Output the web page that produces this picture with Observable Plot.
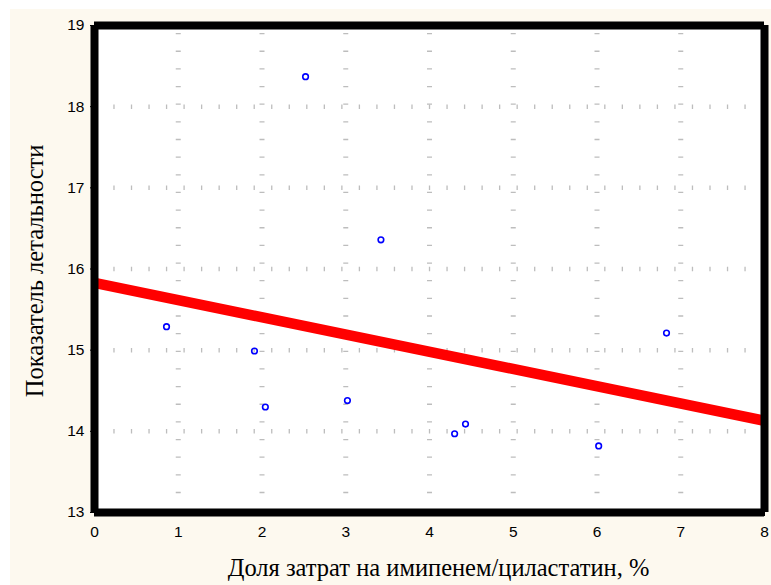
<!DOCTYPE html>
<html>
<head>
<meta charset="utf-8">
<script src="https://cdn.jsdelivr.net/npm/d3@7"></script>
<script src="https://cdn.jsdelivr.net/npm/@observablehq/plot@0.6"></script>
<style>
  html, body { margin: 0; padding: 0; background: #ffffff; }
  #chart svg { display: block; }
</style>
</head>
<body>
<div id="chart"></div>
<script>
// Cost share of imipenem/cilastatin (%) vs. lethality index
const shareX = [0.86, 1.91, 2.04, 2.52, 3.02, 3.42, 4.30, 4.43, 6.02, 6.83];
const lethalityY = [15.29, 14.99, 14.30, 18.37, 14.38, 16.36, 13.97, 14.09, 13.82, 15.21];

// Fitted trend line, read at both ends of the axis
const fitX = [0, 8];
const fitY = [15.83, 14.13];

const xTicks = [0, 1, 2, 3, 4, 5, 6, 7, 8];
const yTicks = [13, 14, 15, 16, 17, 18, 19];
const gridX = [1, 2, 3, 4, 5, 6, 7];
const gridY = [14, 15, 16, 17, 18];

const xTitle = "Доля затрат на имипенем/циластатин, %";
const yTitle = "Показатель летальности";

const points = shareX.map((x, i) => ({x, y: lethalityY[i]}));
const fit = fitX.map((x, i) => ({x, y: fitY[i]}));

const serif = "'Liberation Serif', 'Times New Roman', serif";
const sans = "'Liberation Sans', Arial, sans-serif";

const chart = Plot.plot({
  width: 771,
  height: 585,
  marginLeft: 94,
  marginRight: 7,
  marginTop: 25,
  marginBottom: 73,
  style: {
    background: "#fdf9ef",
    boxShadow: "inset 10px 9px 0 #ffffff",
    color: "#000000",
    fontFamily: sans,
    fontSize: "15.5px"
  },
  x: {domain: [0, 8]},
  y: {domain: [13, 19]},
  marks: [
    Plot.frame({fill: "#ffffff", stroke: null}),
    // dotted grid: short vertical ticks along horizontal lines
    Plot.ruleY(gridY, {stroke: "#bdbdbd", strokeWidth: 4.5, strokeDasharray: "1.3 16.23", strokeDashoffset: -1.8}),
    // short horizontal dashes along vertical lines
    Plot.ruleX(gridX, {stroke: "#bdbdbd", strokeWidth: 5, strokeDasharray: "1.3 16.35", strokeDashoffset: -7.95}),
    Plot.axisX({ticks: xTicks, tickSize: 4, tickPadding: 9, label: null, tickFormat: d3.format("d"), fontSize: 15.5, fontFamily: sans}),
    Plot.axisY({ticks: yTicks, tickSize: 4, tickPadding: 6, label: null, tickFormat: d3.format("d"), fontSize: 15.5, fontFamily: sans}),
    Plot.line(fit, {x: "x", y: "y", stroke: "#ff0000", strokeWidth: 10.5, strokeLinecap: "butt"}),
    Plot.dot(points, {x: "x", y: "y", r: 2.8, stroke: "#0000ff", strokeWidth: 1.6, fill: "none"}),
    // heavy black border around the plotting area
    Plot.ruleY([13, 19], {stroke: "#000000", strokeWidth: 8}),
    Plot.ruleX([0, 8], {stroke: "#000000", strokeWidth: 8}),
    Plot.text([yTitle], {frameAnchor: "left", rotate: -90, textAnchor: "middle", lineAnchor: "middle", dx: -59, dy: 2, fontFamily: serif, fontSize: 24.5, fill: "#000000"}),
    Plot.text([xTitle], {frameAnchor: "bottom", textAnchor: "middle", lineAnchor: "middle", dx: 9, dy: 56, fontFamily: serif, fontSize: 24.5, fill: "#000000"})
  ]
});

document.getElementById("chart").appendChild(chart);
</script>
</body>
</html>
